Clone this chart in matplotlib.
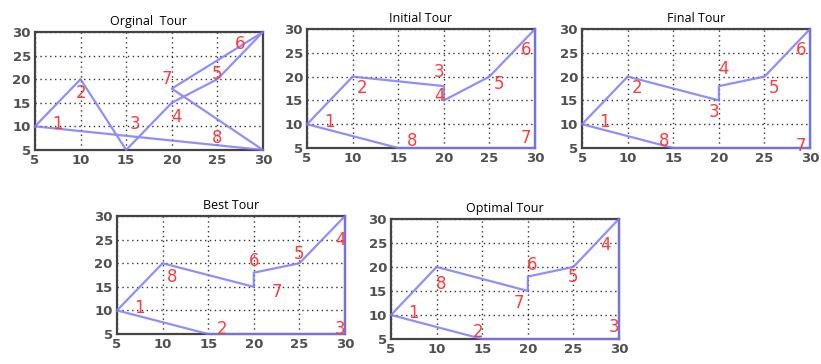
import matplotlib
matplotlib.use("Agg")
import matplotlib.pyplot as plt

# city coordinates, indexed by letter
cities = {
    "A": (5, 10), "B": (10, 20), "C": (15, 5), "D": (20, 15),
    "E": (25, 20), "F": (30, 30), "G": (20, 18), "H": (30, 5),
}

titles = ["Orginal  Tour", "Initial Tour", "Final Tour", "Best Tour", "Optimal Tour"]

# visiting order of each tour (label 1..8 goes to the city at that position)
orginal_tour = ["A", "B", "C", "D", "E", "F", "G", "H"]
initial_tour = ["A", "B", "G", "D", "E", "F", "H", "C"]
final_tour = ["A", "B", "D", "G", "E", "F", "H", "C"]
best_tour = ["A", "C", "H", "F", "E", "G", "D", "B"]
optimal_tour = ["A", "C", "H", "F", "E", "G", "D", "B"]
tours = [orginal_tour, initial_tour, final_tour, best_tour, optimal_tour]

# where each number label sits relative to its city (data units)
label_offsets = [
    [(2.5, 0.5), (0, -3), (1, 5.5), (0.5, -3), (0, 1), (-2.5, -2.5), (-0.5, 2), (-5, 2.5)],
    [(2.5, 0.5), (1, -2.5), (-0.5, 3), (-0.5, 1), (1, -1.5), (-1, -4.5), (-1, 2), (1.5, 1.5)],
    [(2.5, 0.5), (1, -2.5), (-0.5, -2.5), (0.5, 3.5), (1, -2.5), (-1, -4.5), (-1, 0.5), (-1, 1.5)],
    [(2.5, 0.5), (1.5, 1), (-0.5, 1), (-0.5, -5), (0, 2), (0, 2.5), (2.5, -1), (1, -3)],
    [(2.5, 0.5), (-0.5, 1.5), (-0.5, 2.5), (-1.5, -5.5), (0, -2), (0.5, 2.5), (-1, -2.5), (0.5, -3.5)],
]

axes_rects = [
    (0.0426, 0.588, 0.2777, 0.324),
    (0.374, 0.5934, 0.2777, 0.327),
    (0.709, 0.5934, 0.2777, 0.327),
    (0.1425, 0.0824, 0.2777, 0.324),
    (0.4763, 0.0687, 0.2777, 0.33),
]

fig = plt.figure(figsize=(8.21, 3.64), dpi=100)

for title, tour, offsets, rect in zip(titles, tours, label_offsets, axes_rects):
    ax = fig.add_axes(rect)
    xs = [cities[c][0] for c in tour] + [cities[tour[0]][0]]
    ys = [cities[c][1] for c in tour] + [cities[tour[0]][1]]
    ax.plot(xs, ys, color="#7b7bff", lw=1.6, alpha=0.85, zorder=3, clip_on=False)

    for i, c in enumerate(tour):
        cx, cy = cities[c]
        dx, dy = offsets[i]
        ax.text(cx + dx, cy + dy, str(i + 1), color="#ff3b3b", fontsize=12,
                ha="center", va="center", zorder=4)

    ax.set_xlim(5, 30)
    ax.set_ylim(5, 30)
    ax.set_xticks(range(5, 31, 5))
    ax.set_yticks(range(5, 31, 5))
    ax.grid(True, linestyle=(0, (1, 2.5)), color="#333333", lw=1)
    ax.tick_params(length=0, labelsize=9.5, labelcolor="#505050", pad=3)
    for lbl in ax.get_xticklabels() + ax.get_yticklabels():
        lbl.set_fontweight("bold")
    for sp in ax.spines.values():
        sp.set_color("#444444")
        sp.set_linewidth(1.6)
    ax.set_title(title, fontsize=9, family="Open Sans", pad=5)

fig.savefig("out.png", dpi=100)
